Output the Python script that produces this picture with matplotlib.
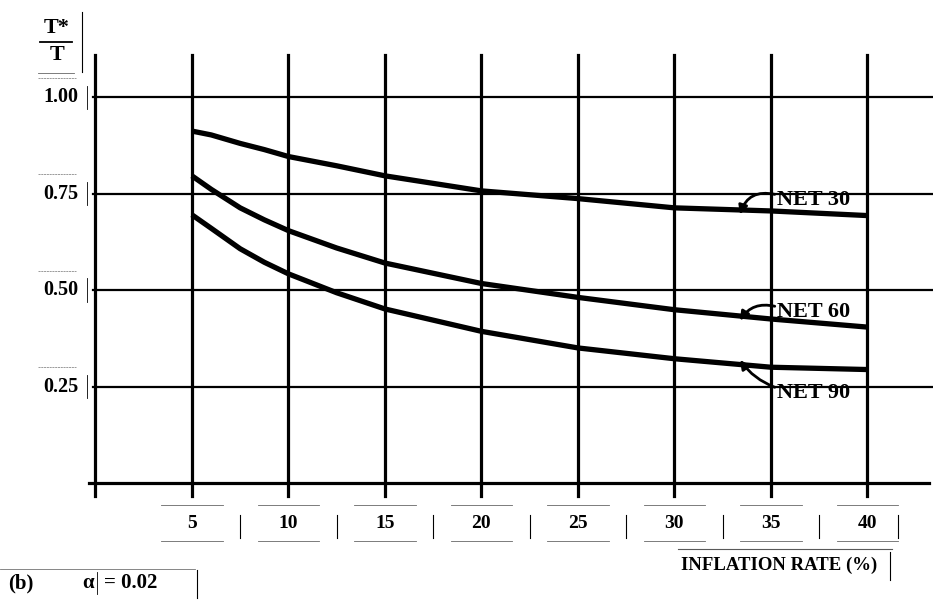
#!/usr/bin/env python3
import matplotlib.pyplot as plt
import numpy as np

# values
rate = [5, 6, 7.5, 8.75, 10, 12.5, 15, 20, 25, 30, 35, 40]
net30 = [0.912, 0.902, 0.880, 0.864, 0.846, 0.822, 0.796, 0.757, 0.737, 0.713, 0.705, 0.693]
net60 = [0.796, 0.761, 0.713, 0.682, 0.654, 0.609, 0.570, 0.517, 0.481, 0.449, 0.425, 0.404]
net90 = [0.695, 0.660, 0.607, 0.572, 0.542, 0.493, 0.451, 0.393, 0.350, 0.322, 0.300, 0.294]

x_ticks = [5, 10, 15, 20, 25, 30, 35, 40]
y_ticks = [0.25, 0.50, 0.75, 1.00]
y_labels = ['0.25', '0.50', '0.75', '1.00']
curve_names = ['NET 30', 'NET 60', 'NET 90']

W, H = 933, 600
FONT = dict(family='Liberation Serif', weight='bold', color='black')


def px(x, y):
    # figure pixel (from top-left) -> figure fraction
    return x / W, 1 - y / H


def hline(fig, x0, x1, y, **kw):
    fig.add_artist(plt.Line2D([x0 / W, x1 / W], [1 - y / H, 1 - y / H], **kw))


def vline(fig, x, y0, y1, **kw):
    fig.add_artist(plt.Line2D([x / W, x / W], [1 - y0 / H, 1 - y1 / H], **kw))


def main():
    fig = plt.figure(figsize=(W / 100, H / 100), dpi=100)
    ax = fig.add_axes([80 / W, 90 / H, 853 / W, 470 / H])
    ax.set_xlim(-0.8, 43.4)
    ax.set_ylim(-0.07, 1.148)
    ax.axis('off')

    # grid
    for v in y_ticks:
        ax.plot([-0.15, 43.4], [v, v], color='k', lw=1.6, clip_on=False)
    ax.plot([-0.35, 43.2], [0, 0], color='k', lw=2.3, clip_on=False)
    for x in [0] + x_ticks:
        ax.plot([x, x], [-0.035, 1.11], color='k', lw=2.3, clip_on=False)

    # curves
    for vals in (net30, net60, net90):
        ax.plot(rate, vals, color='k', lw=3.8, solid_capstyle='butt',
                solid_joinstyle='round')

    # y tick labels
    for v, lab in zip(y_ticks, y_labels):
        ax.text(-0.9, v, lab, ha='right', va='center', fontsize=14.5, **FONT)
        ax.plot([-0.45, -0.45], [v - 0.03, v + 0.03], color='k', lw=0.6,
                clip_on=False)
        ax.plot([-3.0, -1.0], [v + 0.05, v + 0.05], color='0.45', lw=0.5,
                ls=(0, (3, 1)), clip_on=False)

    # x tick labels with cell separators
    for i, x in enumerate(x_ticks):
        ax.text(x, -0.104, str(x), ha='center', va='center', fontsize=14, **FONT)
        sep = x + 2.5 if i < len(x_ticks) - 1 else x + 1.6
        ax.plot([sep, sep], [-0.082, -0.142], color='k', lw=0.8, clip_on=False)
        ax.plot([x - 1.6, x + 1.6], [-0.058, -0.058], color='0.4', lw=0.6,
                clip_on=False)
        ax.plot([x - 1.6, x + 1.6], [-0.150, -0.150], color='0.4', lw=0.6,
                clip_on=False)

    # curve labels with arrows
    tip_x = 33.4
    label_y = [0.733, 0.443, 0.233]
    rads = [0.45, 0.35, -0.15]
    for name, vals, ty, rad in zip(curve_names, (net30, net60, net90), label_y, rads):
        tip_y = np.interp(tip_x, rate, vals)
        off = 0.012 if ty < tip_y else -0.012
        ax.text(35.3, ty, name, ha='left', va='center', fontsize=16, **FONT)
        ax.annotate('', xy=(tip_x, tip_y + off), xytext=(35.2, ty + 0.015),
                    arrowprops=dict(arrowstyle='-|>', color='k', lw=2,
                                    mutation_scale=13, shrinkA=0, shrinkB=0,
                                    connectionstyle=f'arc3,rad={rad}'))

    # y axis title T*/T
    fig.text(*px(57, 28), 'T*', ha='center', va='center', fontsize=16, **FONT)
    hline(fig, 40, 72, 42, color='k', lw=1.3)
    fig.text(*px(57, 55), 'T', ha='center', va='center', fontsize=16, **FONT)
    vline(fig, 82, 12, 72, color='k', lw=0.8)
    hline(fig, 38, 74, 73, color='0.4', lw=0.6)

    # x axis title
    fig.text(*px(779, 565), 'INFLATION RATE (%)', ha='center', va='center',
             fontsize=13.5, **FONT)
    hline(fig, 678, 892, 549, color='0.35', lw=0.8)
    vline(fig, 890, 552, 580, color='k', lw=0.8)

    # panel caption
    fig.text(*px(8, 583), '(b)', ha='left', va='center', fontsize=15, **FONT)
    fig.text(*px(88, 583), 'α', ha='center', va='center', fontsize=15, **FONT)
    vline(fig, 97, 572, 594, color='k', lw=0.6)
    fig.text(*px(104, 583), '= 0.02', ha='left', va='center', fontsize=15, **FONT)
    vline(fig, 197, 570, 598, color='k', lw=0.8)
    hline(fig, 0, 195, 569, color='0.45', lw=0.6)

    fig.savefig('out.png', dpi=100, facecolor='white')


if __name__ == '__main__':
    main()
